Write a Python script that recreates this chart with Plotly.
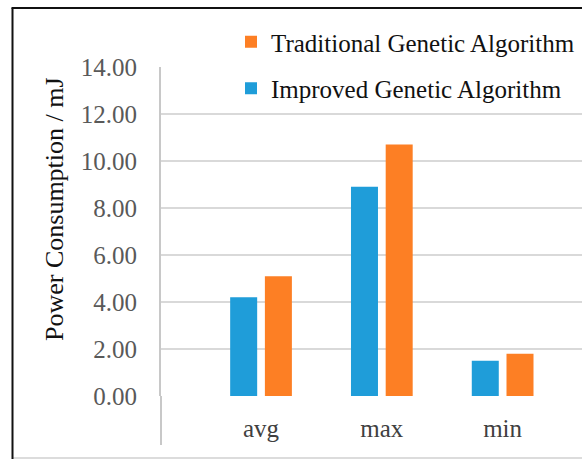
import plotly.graph_objects as go

categories = ["avg", "max", "min"]
improved = [4.2, 8.9, 1.5]
traditional = [5.1, 10.7, 1.8]
y_ticks = [0, 2, 4, 6, 8, 10, 12, 14]
y_tick_labels = ["0.00", "2.00", "4.00", "6.00", "8.00", "10.00", "12.00", "14.00"]
y_title = "Power Consumption / mJ"

W, H = 582, 459
L, R, T, B = 161, 0, 67, 63
PW, PH = W - L - R, H - T - B


def px(xpix):
    return (xpix - L) / PW


def py(ypix):
    return 1 - (ypix - T) / PH


FONT = "Liberation Serif"
BLUE = "#1f9dd9"
ORANGE = "#fd7f24"

fig = go.Figure()
fig.add_trace(go.Bar(
    x=categories, y=traditional, name="Traditional Genetic Algorithm",
    marker=dict(color=ORANGE, line=dict(width=0)),
    width=0.2235, offset=0.032, legendgroup="trad",
))
fig.add_trace(go.Bar(
    x=categories, y=improved, name="Improved Genetic Algorithm",
    marker=dict(color=BLUE, line=dict(width=0)),
    width=0.2235, offset=-0.2554, legendgroup="imp",
))

shapes = [
    # y-axis line extension below zero
    dict(type="line", xref="paper", yref="paper", x0=0, x1=0, y0=0, y1=py(445),
         line=dict(color="#c8c8c8", width=2), layer="below"),
    # bottom light line
    dict(type="line", xref="paper", yref="paper", x0=px(12), x1=1, y0=py(458), y1=py(458),
         line=dict(color="#d0d0d0", width=1.5)),
    # black frame left and top
    dict(type="line", xref="paper", yref="paper", x0=px(12.5), x1=px(12.5), y0=py(8), y1=py(460),
         line=dict(color="#111111", width=2)),
    dict(type="line", xref="paper", yref="paper", x0=px(11.5), x1=1, y0=py(8), y1=py(8),
         line=dict(color="#111111", width=2)),
]

fig.update_layout(
    width=W, height=H,
    margin=dict(l=L, r=R, t=T, b=B, autoexpand=False),
    paper_bgcolor="white", plot_bgcolor="white",
    barmode="overlay",
    font=dict(family=FONT, size=24, color="#404040"),
    showlegend=True,
    legend=dict(
        x=px(231), y=py(19), xanchor="left", yanchor="top",
        bgcolor="rgba(0,0,0,0)",
        font=dict(family=FONT, size=25, color="#111111"),
        traceorder="grouped", tracegroupgap=11,
    ),
    xaxis=dict(
        range=[-0.828, 2.657], showgrid=False, showline=False, zeroline=False,
        ticks="", ticklabelstandoff=15, automargin=False,
        tickfont=dict(size=25, color="#404040"),
    ),
    yaxis=dict(
        range=[0, 14], tickvals=y_ticks, ticktext=y_tick_labels,
        showgrid=True, gridcolor="#d9d9d9", gridwidth=2,
        zeroline=False, showline=True, linecolor="#c8c8c8", linewidth=2,
        ticks="", ticklabelstandoff=17, automargin=False,
        tickfont=dict(size=25, color="#595959"),
    ),
    annotations=[dict(
        text=y_title, textangle=-90, showarrow=False,
        xref="paper", yref="paper", x=px(54), y=py(209),
        xanchor="center", yanchor="middle",
        font=dict(family=FONT, size=26, color="#111111"),
    )],
    shapes=shapes,
)

fig.write_html("out.html")
